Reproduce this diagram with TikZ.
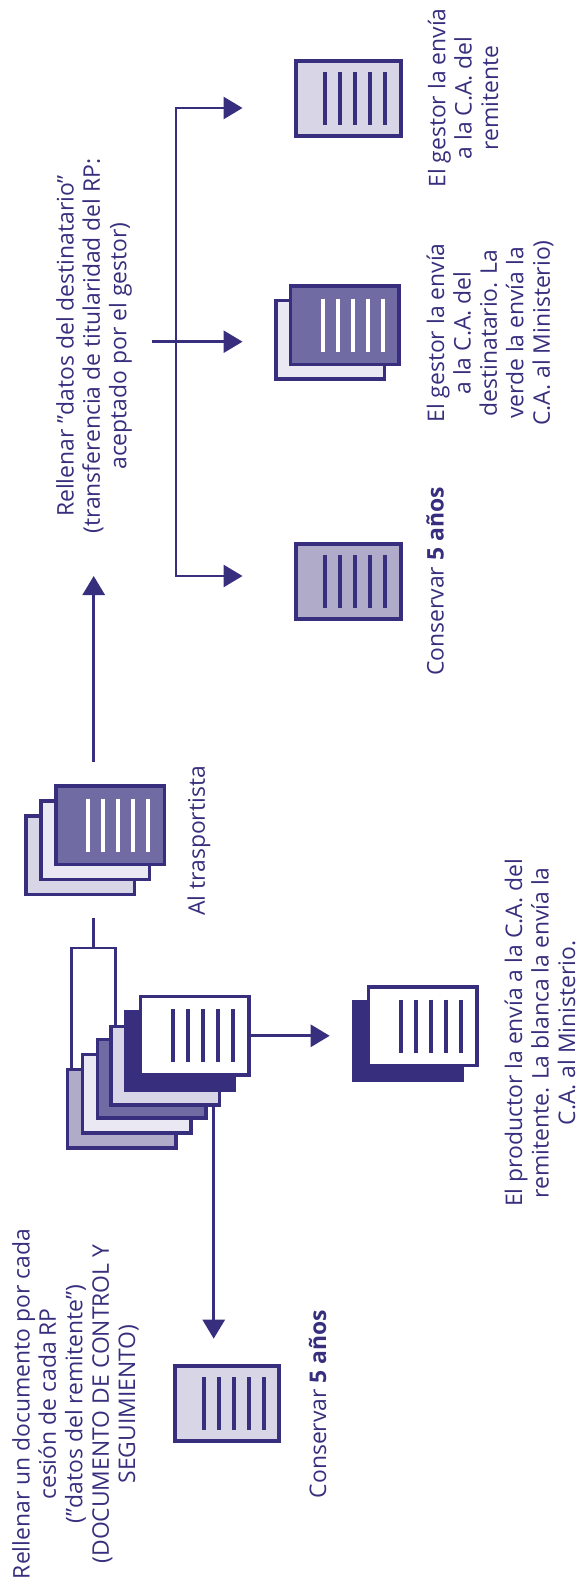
\documentclass[tikz,border=0pt]{standalone}
\usepackage{fontspec}
\setmainfont{Open Sans}
\usetikzlibrary{arrows.meta}
\definecolor{inkblue}{HTML}{372F7D}
\definecolor{toneA}{HTML}{D7D5E6}
\definecolor{toneB}{HTML}{EAE9F3}
\definecolor{toneC}{HTML}{716BA3}
\definecolor{toneD}{HTML}{AFABC9}
\tikzset{
  sheet/.style={draw=inkblue,line width=3.5pt,minimum width=108.5pt,minimum height=78.5pt,inner sep=0pt},
  thicksheet/.style={draw=inkblue,line width=4pt,minimum width=104.5pt,minimum height=75pt,inner sep=0pt},
  wire/.style={draw=inkblue,line width=2.8pt},
  flow/.style={wire,-{Triangle[length=19pt,width=22pt]}},
  label/.style={text=inkblue,rotate=90,align=center,inner sep=0pt,font=\fontsize{22.9}{26.4}\selectfont}
}
\newcommand{\sheetlines}[3]{
\foreach \k in {-2,...,2}
\draw[#3,line width=4pt]([xshift=#2pt+\k*15pt,yshift=26.5pt]#1.center)--([xshift=#2pt+\k*15pt,yshift=-26.5pt]#1.center);
}
\begin{document}
\begin{tikzpicture}[x=1pt,y=-1pt]
\useasboundingbox (0,0) rectangle (582,1584);
\coordinate (upstart) at (93.7,761.7);
\coordinate (uptip) at (93.7,576);
\coordinate (stubtop) at (93.7,918.3);
\coordinate (forktop) at (176,108);
\coordinate (forkbot) at (176,576);
\coordinate (forkin) at (151.7,341.7);
\coordinate (tiptop) at (242.5,108);
\coordinate (tipmid) at (242.5,341.7);
\coordinate (tipbot) at (242.5,576);
\coordinate (tipright) at (329.7,1035.8);
\coordinate (tipdown) at (213.7,1338.7);
\coordinate (downstart) at (213.7,1090);
\node[draw=inkblue,line width=2.5pt,fill=white,minimum width=44pt,minimum height=130pt,inner sep=0pt] (tab) at (93.7,1013){};
\draw[wire](stubtop)--(tab.north);
\draw[flow](upstart)--(uptip);
\draw[wire,{Triangle[length=19pt,width=22pt]}-{Triangle[length=19pt,width=22pt]}](tiptop)--(forktop)--(forkbot)--(tipbot);
\draw[flow](forkin)--(tipmid);
\draw[flow](downstart)--(tipdown);

\node[thicksheet,fill=toneA](gestorsheet) at (348.5,98.6){};
\sheetlines{gestorsheet}{6.5}{inkblue}
\node[sheet,fill=toneB](destback) at (330,339.7){};
\node[sheet,fill=toneC](destfront) at (344.7,325){};
\sheetlines{destfront}{8.4}{white}
\node[thicksheet,fill=toneD](keepsheet) at (348.5,581.5){};
\sheetlines{keepsheet}{6.5}{inkblue}

\node[sheet,fill=toneA](carrierC) at (80.2,855){};
\node[sheet,fill=toneB](carrierB) at (95.2,840){};
\node[sheet,fill=toneC](carrierA) at (110,825){};
\sheetlines{carrierA}{8}{white}

\node[sheet,fill=toneD](padE) at (121.7,1108.8){};
\node[sheet,fill=toneB](padD) at (136.7,1093.8){};
\node[sheet,fill=toneC](padC) at (151.5,1078.8){};
\node[sheet,fill=toneA](padB) at (165,1065.5){};
\node[draw=inkblue,fill=inkblue,line width=3.5pt,minimum width=108.5pt,minimum height=78.5pt,inner sep=0pt](padA) at (179.8,1050.7){};
\node[sheet,fill=white](padtop) at (194.7,1035.8){};
\sheetlines{padtop}{8.3}{inkblue}
\draw[flow](padtop.east)--(tipright);

\node[draw=inkblue,fill=inkblue,line width=3.5pt,minimum width=108.5pt,minimum height=78.5pt,inner sep=0pt](copyback) at (407.8,1041.2){};
\node[sheet,fill=white](copyfront) at (422.7,1026.2){};
\sheetlines{copyfront}{8.3}{inkblue}
\node[thicksheet,fill=toneA](firstsheet) at (227.2,1403.8){};
\sheetlines{firstsheet}{6.5}{inkblue}

\node[label](firsttext) at (75.5,1404){Rellenar un documento por cada\\cesión de cada RP\\(”datos del remitente”)\\(DOCUMENTO DE CONTROL Y\\SEGUIMIENTO)};
\node[label](firstkeep) at (317.5,1404){Conservar \textbf{5 años}};
\node[label](copytext) at (540,1033){El productor la envía a la C.A. del\\remitente. La blanca la envía la\\C.A. al Ministerio.};
\node[label](carriertext) at (199,841){Al trasportista};
\node[label](filltext) at (94,346){Rellenar ”datos del destinatario”\\(transferencia de titularidad del RP:\\aceptado por el gestor)};
\node[label](gestortext) at (463,98){El gestor la envía\\a la C.A. del\\remitente};
\node[label](desttext) at (490,333){El gestor la envía\\a la C.A. del\\destinatario. La\\verde la envía la\\C.A. al Ministerio)};
\node[label](keeptext) at (435,581.5){Conservar \textbf{5 años}};
\end{tikzpicture}
\end{document}
